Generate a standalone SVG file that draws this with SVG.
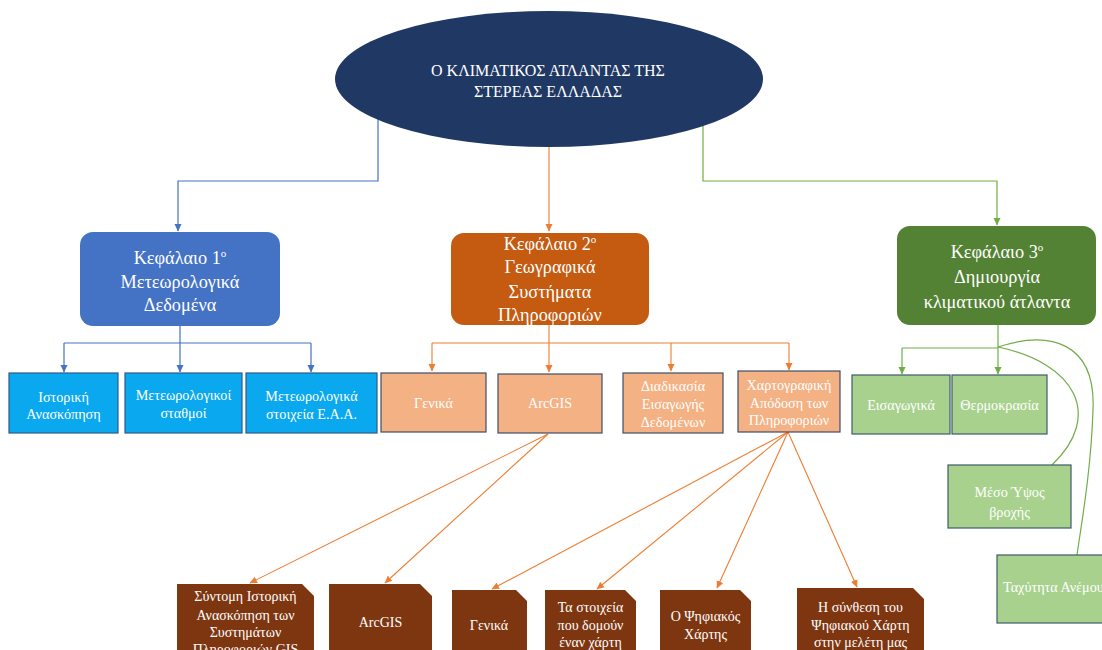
<svg xmlns="http://www.w3.org/2000/svg" width="1102" height="650" viewBox="0 0 1102 650">
<defs>
<style>
text{font-family:"Liberation Serif","DejaVu Serif",serif;fill:#ffffff;text-anchor:middle}
.t16{font-size:16px}
.t13{font-size:14px}
.t12{font-size:14.2px}
.t18{font-size:18.3px}
.leafB{fill:#0AA8EE;stroke:#2E5A8A;stroke-width:1.2}
.leafO{fill:#F4B183;stroke:#3F4E6A;stroke-width:1.2}
.leafG{fill:#A9D18E;stroke:#3F5A6A;stroke-width:1.2}
.brown{fill:#7E3611}
.cb{fill:none;stroke:#4472C4;stroke-width:1.2}
.co{fill:none;stroke:#ED7D31;stroke-width:1.1}
.cg{fill:none;stroke:#70AD47;stroke-width:1.2}
</style>
<marker id="ab" markerWidth="8" markerHeight="8" refX="7" refY="4" orient="auto" markerUnits="userSpaceOnUse"><path d="M0,0.5 L7.5,4 L0,7.5 Z" fill="#4472C4"/></marker>
<marker id="ao" markerWidth="8" markerHeight="8" refX="7" refY="4" orient="auto" markerUnits="userSpaceOnUse"><path d="M0,0.5 L7.5,4 L0,7.5 Z" fill="#ED7D31"/></marker>
<marker id="ag" markerWidth="8" markerHeight="8" refX="7" refY="4" orient="auto" markerUnits="userSpaceOnUse"><path d="M0,0.5 L7.5,4 L0,7.5 Z" fill="#70AD47"/></marker>
</defs>
<rect width="1102" height="650" fill="#ffffff"/>

<g id="connectors">
<path class="cb" d="M378,110 V181 H178 V231" marker-end="url(#ab)"/>
<path class="co" d="M549,140 V231" marker-end="url(#ao)"/>
<path class="cg" d="M703,110 V181 H997 V225" marker-end="url(#ag)"/>

<path class="cb" d="M180,326 V343"/>
<path class="cb" d="M64,343 H311"/>
<path class="cb" d="M64,343 V372" marker-end="url(#ab)"/>
<path class="cb" d="M180,343 V372" marker-end="url(#ab)"/>
<path class="cb" d="M311,343 V372" marker-end="url(#ab)"/>

<path class="co" d="M432,343 H789"/>
<path class="co" d="M432,343 V371" marker-end="url(#ao)"/>
<path class="co" d="M549,325 V372" marker-end="url(#ao)"/>
<path class="co" d="M671,343 V371" marker-end="url(#ao)"/>
<path class="co" d="M789,343 V370" marker-end="url(#ao)"/>

<path class="cg" d="M998,325 V374" marker-end="url(#ag)"/>
<path class="cg" d="M902,348 H998"/>
<path class="cg" d="M902,348 V374" marker-end="url(#ag)"/>
<path class="cg" d="M998,347 C1075,363 1104,415 1052,465"/>
<path class="cg" d="M998,347 C1050,330 1096,342 1093,410 C1091,470 1082,520 1077,555"/>

<path class="co" d="M548,434 L250,583" marker-end="url(#ao)"/>
<path class="co" d="M548,434 L385,583" marker-end="url(#ao)"/>
<path class="co" d="M788,432 L492,589" marker-end="url(#ao)"/>
<path class="co" d="M788,432 L597,589" marker-end="url(#ao)"/>
<path class="co" d="M788,432 L717,588" marker-end="url(#ao)"/>
<path class="co" d="M788,432 L857,587" marker-end="url(#ao)"/>
</g>

<g id="root">
<ellipse cx="549" cy="79" rx="214" ry="68" fill="#1F3864"/>
<text class="t16" x="548" y="76">Ο ΚΛΙΜΑΤΙΚΟΣ ΑΤΛΑΝΤΑΣ ΤΗΣ</text>
<text class="t16" x="548" y="97">ΣΤΕΡΕΑΣ ΕΛΛΑΔΑΣ</text>
</g>

<g id="ch1">
<rect x="80" y="232" width="200" height="94" rx="13" fill="#4472C4"/>
<text class="t18" x="180" y="264">Κεφάλαιο 1<tspan font-size="11" dy="-7">ο</tspan></text>
<text class="t18" x="180" y="288">Μετεωρολογικά</text>
<text class="t18" x="180" y="311">Δεδομένα</text>
</g>

<g id="ch2">
<rect x="451" y="233" width="198" height="92" rx="13" fill="#C55A11"/>
<text class="t18" x="550" y="250">Κεφάλαιο 2<tspan font-size="11" dy="-7">ο</tspan></text>
<text class="t18" x="550" y="273">Γεωγραφικά</text>
<text class="t18" x="550" y="298">Συστήματα</text>
<text class="t18" x="550" y="321">Πληροφοριών</text>
</g>

<g id="ch3">
<rect x="897" y="226" width="199" height="99" rx="13" fill="#548235"/>
<text class="t18" x="997" y="258">Κεφάλαιο 3<tspan font-size="11" dy="-7">ο</tspan></text>
<text class="t18" x="997" y="283">Δημιουργία</text>
<text class="t18" x="997" y="308">κλιματικού άτλαντα</text>
</g>

<g id="b1"><rect class="leafB" x="9" y="373" width="109" height="60"/>
<text class="t12" x="63.5" y="402">Ιστορική</text><text class="t12" x="63.5" y="419">Ανασκόπηση</text></g>
<g id="b2"><rect class="leafB" x="125" y="373" width="117" height="60"/>
<text class="t12" x="183.5" y="400">Μετεωρολογικοί</text><text class="t12" x="183.5" y="418">σταθμοί</text></g>
<g id="b3"><rect class="leafB" x="246" y="373" width="131" height="60"/>
<text class="t12" x="311.5" y="401">Μετεωρολογικά</text><text class="t12" x="311.5" y="419">στοιχεία Ε.Α.Α.</text></g>

<g id="o1"><rect class="leafO" x="381" y="373" width="105" height="59"/>
<text class="t12" x="433.5" y="408">Γενικά</text></g>
<g id="o2"><rect class="leafO" x="498" y="374" width="104" height="59"/>
<text class="t12" x="550" y="408">ArcGIS</text></g>
<g id="o3"><rect class="leafO" x="623" y="373" width="100" height="60"/>
<text class="t12" x="673" y="391">Διαδικασία</text><text class="t12" x="673" y="409">Εισαγωγής</text><text class="t12" x="673" y="427">Δεδομένων</text></g>
<g id="o4"><rect class="leafO" x="738" y="371" width="102" height="61"/>
<text class="t12" x="789" y="390">Χαρτογραφική</text><text class="t12" x="789" y="408">Απόδοση των</text><text class="t12" x="789" y="425">Πληροφοριών</text></g>

<g id="g1"><rect class="leafG" x="852" y="375" width="98" height="59"/>
<text class="t12" x="901" y="410">Εισαγωγικά</text></g>
<g id="g2"><rect class="leafG" x="952" y="375" width="95" height="59"/>
<text class="t12" x="999.5" y="410">Θερμοκρασία</text></g>
<g id="g3"><rect class="leafG" x="948" y="465" width="123" height="63"/>
<text class="t12" x="1009.5" y="497">Μέσο Ύψος</text><text class="t12" x="1009.5" y="517">βροχής</text></g>
<g id="g4"><rect class="leafG" x="997" y="555" width="110" height="68"/>
<text class="t12" x="1003" y="592" style="text-anchor:start">Ταχύτητα Ανέμου</text></g>

<g id="d1"><path class="brown" d="M177,584 H302 L314,596 V660 H177 Z"/>
<text class="t13" x="245.5" y="601">Σύντομη Ιστορική</text><text class="t13" x="245.5" y="620">Ανασκόπηση των</text><text class="t13" x="245.5" y="637">Συστημάτων</text><text class="t13" x="245.5" y="654">Πληροφοριών GIS</text></g>
<g id="d2"><path class="brown" d="M329,584 H420 L432,596 V660 H329 Z"/>
<text class="t13" x="380.5" y="627">ArcGIS</text></g>
<g id="d3"><path class="brown" d="M452,590 H516 L527,601 V660 H452 Z"/>
<text class="t13" x="489" y="630">Γενικά</text></g>
<g id="d4"><path class="brown" d="M545,590 H625 L636,601 V660 H545 Z"/>
<text class="t13" x="590.5" y="612">Τα στοιχεία</text><text class="t13" x="590.5" y="630">που δομούν</text><text class="t13" x="590.5" y="647">έναν χάρτη</text></g>
<g id="d5"><path class="brown" d="M660,590 H740 L751,601 V660 H660 Z"/>
<text class="t13" x="705.5" y="621">Ο Ψηφιακός</text><text class="t13" x="705.5" y="639">Χάρτης</text></g>
<g id="d6"><path class="brown" d="M797,588 H913 L924,599 V660 H797 Z"/>
<text class="t13" x="860.5" y="612">Η σύνθεση του</text><text class="t13" x="860.5" y="630">Ψηφιακού Χάρτη</text><text class="t13" x="860.5" y="647">στην μελέτη μας</text></g>
</svg>
